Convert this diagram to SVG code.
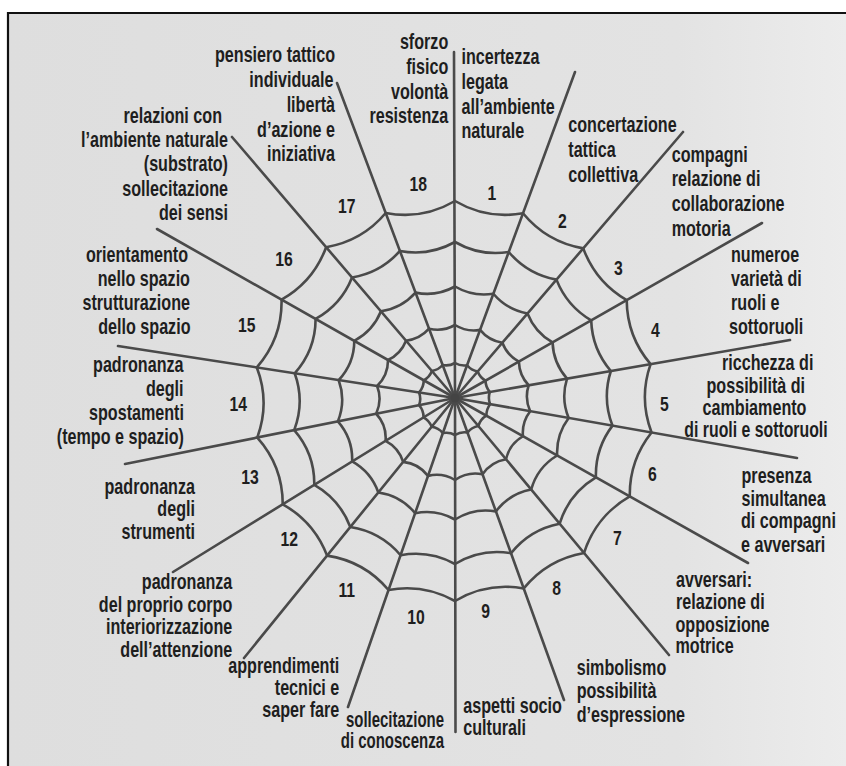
<svg xmlns="http://www.w3.org/2000/svg" width="846" height="766" viewBox="0 0 846 766">
<defs>
<linearGradient id="bg" x1="0" y1="0" x2="1" y2="0">
<stop offset="0" stop-color="#dedede"/>
<stop offset="0.8" stop-color="#e3e3e3"/>
<stop offset="1" stop-color="#ececec"/>
</linearGradient>
<style>
.web{fill:none;stroke:#4a4a4a;stroke-width:2.6;stroke-linejoin:round;stroke-linecap:round}
.t{font-family:"Liberation Sans",Arial,sans-serif;font-weight:bold;font-size:21.5px;fill:#1e1e1e}
.e{text-anchor:end}
.s{text-anchor:start}
.m{text-anchor:middle}
.n{font-family:"Liberation Sans",Arial,sans-serif;font-weight:bold;font-size:21px;fill:#1e1e1e;text-anchor:middle}
</style>
</defs>
<rect x="0" y="0" width="846" height="766" fill="#ffffff"/>
<rect x="8" y="13" width="838" height="753" fill="url(#bg)"/>
<line x1="7" y1="13" x2="846" y2="13" stroke="#111" stroke-width="2.2"/>
<line x1="8" y1="12" x2="8" y2="766" stroke="#111" stroke-width="2.2"/>

<g id="connectors" class="web">
<g id="spokes">
<line x1="455" y1="398" x2="454" y2="52"/>
<line x1="455" y1="398" x2="575" y2="72"/>
<line x1="455" y1="398" x2="683" y2="132"/>
<line x1="455" y1="398" x2="762" y2="223"/>
<line x1="455" y1="398" x2="790" y2="340"/>
<line x1="455" y1="398" x2="797" y2="458"/>
<line x1="455" y1="398" x2="748" y2="563"/>
<line x1="455" y1="398" x2="669" y2="655"/>
<line x1="455" y1="398" x2="564" y2="700"/>
<line x1="455" y1="398" x2="455.5" y2="732"/>
<line x1="455" y1="398" x2="348" y2="707"/>
<line x1="455" y1="398" x2="244" y2="658"/>
<line x1="455" y1="398" x2="173" y2="572"/>
<line x1="455" y1="398" x2="125" y2="464"/>
<line x1="455" y1="398" x2="118" y2="346"/>
<line x1="455" y1="398" x2="157" y2="229"/>
<line x1="455" y1="398" x2="232" y2="137"/>
<line x1="455" y1="398" x2="337" y2="83"/>
</g>
<g id="rings">
<path d="M455,201 A100,100 0 0 0 522.99,213.29 A100,100 0 0 0 583.25,248.37 A100,100 0 0 0 626.70,300.12 A100,100 0 0 0 650.58,364.14 A100,100 0 0 0 651.54,432.48 A100,100 0 0 0 629.78,496.41 A100,100 0 0 0 584.05,552.98 A100,100 0 0 0 523.74,588.43 A100,100 0 0 0 455,601 A100,100 0 0 0 388.53,589.99 A100,100 0 0 0 327.09,555.62 A100,100 0 0 0 282.73,504.30 A100,100 0 0 0 257.32,437.53 A100,100 0 0 0 256.82,367.42 A100,100 0 0 0 281.57,299.64 A100,100 0 0 0 326.14,247.18 A100,100 0 0 0 385.70,213.02 A100,100 0 0 0 455,201"/>
<path d="M455,242 A82,82 0 0 0 508.75,251.97 A82,82 0 0 0 556.46,279.63 A82,82 0 0 0 591.20,320.36 A82,82 0 0 0 610.85,371.01 A82,82 0 0 0 612.49,425.63 A82,82 0 0 0 595.90,477.34 A82,82 0 0 0 559.66,523.70 A82,82 0 0 0 511.02,553.20 A82,82 0 0 0 455,564 A82,82 0 0 0 400.56,555.23 A82,82 0 0 0 350.30,527.03 A82,82 0 0 0 314.30,484.82 A82,82 0 0 0 294.22,430.15 A82,82 0 0 0 294.69,373.26 A82,82 0 0 0 315.60,318.94 A82,82 0 0 0 352.04,277.49 A82,82 0 0 0 399.92,250.97 A82,82 0 0 0 455,242"/>
<path d="M455,286.5 A58,58 0 0 0 493.38,293.72 A58,58 0 0 0 527.50,313.41 A58,58 0 0 0 552.55,342.39 A58,58 0 0 0 567.01,378.61 A58,58 0 0 0 568.66,417.94 A58,58 0 0 0 557.13,455.50 A58,58 0 0 0 531.19,489.50 A58,58 0 0 0 495.92,511.35 A58,58 0 0 0 455,519.5 A58,58 0 0 0 415.12,513.18 A58,58 0 0 0 378.34,492.47 A58,58 0 0 0 352.17,461.45 A58,58 0 0 0 337.86,421.42 A58,58 0 0 0 338.67,380.05 A58,58 0 0 0 354.30,340.89 A58,58 0 0 0 380.95,311.33 A58,58 0 0 0 415.53,292.64 A58,58 0 0 0 455,286.5"/>
<path d="M455,325 A36,36 0 0 0 480.07,329.88 A36,36 0 0 0 502.37,342.74 A36,36 0 0 0 518.88,361.59 A36,36 0 0 0 528.66,385.25 A36,36 0 0 0 530.17,411.19 A36,36 0 0 0 522.94,436.25 A36,36 0 0 0 505.99,459.23 A36,36 0 0 0 482.52,474.23 A36,36 0 0 0 455,480 A36,36 0 0 0 428.04,475.88 A36,36 0 0 0 403.16,461.88 A36,36 0 0 0 385.58,440.83 A36,36 0 0 0 376.21,413.75 A36,36 0 0 0 377.13,385.98 A36,36 0 0 0 388.01,360.01 A36,36 0 0 0 406.03,340.69 A36,36 0 0 0 429.04,328.72 A36,36 0 0 0 455,325"/>
<path d="M455,363 A18,18 0 0 0 467.05,365.26 A18,18 0 0 0 477.73,371.49 A18,18 0 0 0 485.47,380.63 A18,18 0 0 0 489.82,391.97 A18,18 0 0 0 490.14,404.17 A18,18 0 0 0 486.42,415.69 A18,18 0 0 0 478.32,426.01 A18,18 0 0 0 467.48,432.58 A18,18 0 0 0 455,435 A18,18 0 0 0 442.86,433.07 A18,18 0 0 0 431.63,426.80 A18,18 0 0 0 423.56,417.40 A18,18 0 0 0 419.02,405.19 A18,18 0 0 0 419.08,392.46 A18,18 0 0 0 423.74,380.27 A18,18 0 0 0 431.89,370.96 A18,18 0 0 0 442.64,365.00 A18,18 0 0 0 455,363"/>
</g>
<circle cx="455" cy="398" r="4.5" fill="#444" stroke="none"/>
</g>

<g id="sector-1" transform="scale(0.75 1)">
<text class="n" x="656" y="200.5">1</text>
<text class="t s" x="615.3" y="64">incertezza</text>
<text class="t s" x="615.3" y="88.8">legata</text>
<text class="t s" x="615.3" y="113.6">all’ambiente</text>
<text class="t s" x="615.3" y="138.4">naturale</text>
</g>
<g id="sector-2" transform="scale(0.75 1)">
<text class="n" x="749.7" y="228">2</text>
<text class="t s" x="757.7" y="131.7">concertazione</text>
<text class="t s" x="757.7" y="157">tattica</text>
<text class="t s" x="757.7" y="181.7">collettiva</text>
</g>
<g id="sector-3" transform="scale(0.75 1)">
<text class="n" x="824.4" y="275.5">3</text>
<text class="t s" x="895.6" y="161.7">compagni</text>
<text class="t s" x="895.6" y="186">relazione di</text>
<text class="t s" x="895.6" y="211.3">collaborazione</text>
<text class="t s" x="895.6" y="236">motoria</text>
</g>
<g id="sector-4" transform="scale(0.75 1)">
<text class="n" x="874" y="337.3">4</text>
<text class="t s" x="974.7" y="261.8">numeroe</text>
<text class="t s" x="974.7" y="286">varietà di</text>
<text class="t s" x="974.7" y="310.4">ruoli e</text>
<text class="t s" x="972" y="334.4">sottoruoli</text>
</g>
<g id="sector-5" transform="scale(0.75 1)">
<text class="n" x="885.7" y="411.3">5</text>
<text class="t m" x="1023.6" y="370">ricchezza di</text>
<text class="t m" x="1007.7" y="393">possibilità di</text>
<text class="t m" x="1006" y="415">cambiamento</text>
<text class="t m" x="1008" y="436.8" textLength="191" lengthAdjust="spacingAndGlyphs">di ruoli e sottoruoli</text>
</g>
<g id="sector-6" transform="scale(0.75 1)">
<text class="n" x="869.7" y="481">6</text>
<text class="t s" x="988.7" y="483.3">presenza</text>
<text class="t s" x="988.7" y="506">simultanea</text>
<text class="t s" x="988" y="528.4">di compagni</text>
<text class="t s" x="988" y="551.6">e avversari</text>
</g>
<g id="sector-7" transform="scale(0.75 1)">
<text class="n" x="823.3" y="545.3">7</text>
<text class="t s" x="901.3" y="586.7">avversari:</text>
<text class="t s" x="901.3" y="609.3">relazione di</text>
<text class="t s" x="900.7" y="631.7">opposizione</text>
<text class="t s" x="900.7" y="653.4">motrice</text>
</g>
<g id="sector-8" transform="scale(0.75 1)">
<text class="n" x="742.3" y="595">8</text>
<text class="t s" x="768.9" y="675">simbolismo</text>
<text class="t s" x="768.9" y="698.3">possibilità</text>
<text class="t s" x="768.9" y="721.7">d’espressione</text>
</g>
<g id="sector-9" transform="scale(0.75 1)">
<text class="n" x="647.6" y="618">9</text>
<text class="t s" x="617.7" y="712.8">aspetti socio</text>
<text class="t s" x="617.7" y="735">culturali</text>
</g>
<g id="sector-10" transform="scale(0.75 1)">
<text class="n" x="554.7" y="624">10</text>
<text class="t e" x="592" y="726.8" textLength="130.7" lengthAdjust="spacingAndGlyphs">sollecitazione</text>
<text class="t e" x="592" y="747.7" textLength="137.7" lengthAdjust="spacingAndGlyphs">di conoscenza</text>
</g>
<g id="sector-11" transform="scale(0.75 1)">
<text class="n" x="462.3" y="597.3">11</text>
<text class="t e" x="452.4" y="673.3">apprendimenti</text>
<text class="t e" x="452.4" y="695">tecnici e</text>
<text class="t e" x="452.4" y="716.7">saper fare</text>
</g>
<g id="sector-12" transform="scale(0.75 1)">
<text class="n" x="385.7" y="545.6">12</text>
<text class="t e" x="309.7" y="589.3">padronanza</text>
<text class="t e" x="309.7" y="611.7">del proprio corpo</text>
<text class="t e" x="309.7" y="634">interiorizzazione</text>
<text class="t e" x="309.7" y="656.7">dell’attenzione</text>
</g>
<g id="sector-13" transform="scale(0.75 1)">
<text class="n" x="333.3" y="484">13</text>
<text class="t e" x="260" y="494">padronanza</text>
<text class="t e" x="260" y="516.5">degli</text>
<text class="t e" x="260" y="539">strumenti</text>
</g>
<g id="sector-14" transform="scale(0.75 1)">
<text class="n" x="317.7" y="410.6">14</text>
<text class="t e" x="244.7" y="372.5">padronanza</text>
<text class="t e" x="244.7" y="396.3">degli</text>
<text class="t e" x="245.3" y="420">spostamenti</text>
<text class="t e" x="245.3" y="443.8">(tempo e spazio)</text>
</g>
<g id="sector-15" transform="scale(0.75 1)">
<text class="n" x="328.9" y="332.3">15</text>
<text class="t e" x="250.7" y="262">orientamento</text>
<text class="t e" x="253.3" y="286">nello spazio</text>
<text class="t e" x="253.3" y="310">strutturazione</text>
<text class="t e" x="254" y="334">dello spazio</text>
</g>
<g id="sector-16" transform="scale(0.75 1)">
<text class="n" x="378.7" y="266">16</text>
<text class="t e" x="296" y="123">relazioni con</text>
<text class="t e" x="304" y="147">l’ambiente naturale</text>
<text class="t e" x="304" y="171.3">(substrato)</text>
<text class="t e" x="304" y="195.6">sollecitazione</text>
<text class="t e" x="304" y="219.8">dei sensi</text>
</g>
<g id="sector-17" transform="scale(0.75 1)">
<text class="n" x="462.3" y="213.3">17</text>
<text class="t e" x="446.7" y="62.3">pensiero tattico</text>
<text class="t e" x="444.7" y="87">individuale</text>
<text class="t e" x="446.7" y="111.8">libertà</text>
<text class="t e" x="446.7" y="136.6">d’azione e</text>
<text class="t e" x="446.7" y="161.5">iniziativa</text>
</g>
<g id="sector-18" transform="scale(0.75 1)">
<text class="n" x="557.7" y="190.6">18</text>
<text class="t e" x="597.7" y="49.3">sforzo</text>
<text class="t e" x="597.7" y="74">fisico</text>
<text class="t e" x="597.7" y="98.7">volontà</text>
<text class="t e" x="597.7" y="123.4">resistenza</text>
</g>
</svg>
